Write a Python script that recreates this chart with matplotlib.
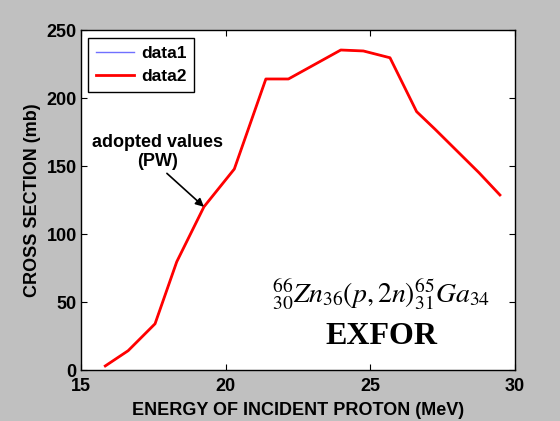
import matplotlib
matplotlib.use('Agg')
import matplotlib.pyplot as plt

# cross section of 66Zn(p,2n)65Ga vs proton energy
energy = [15.84, 16.63, 17.56, 18.31, 19.25, 20.30, 21.39, 22.17, 23.98, 24.76,
          25.68, 26.60, 27.24, 28.76, 29.48]
xs = [3.0, 14.2, 34.0, 79.6, 120.0, 147.8, 214.0, 214.0, 235.3, 234.6,
      229.6, 190.0, 177.0, 145.0, 128.7]

plt.rcParams['font.family'] = ['Liberation Sans', 'DejaVu Sans']
plt.rcParams['mathtext.fontset'] = 'stix'

fig = plt.figure(figsize=(5.6, 4.21), dpi=100)
fig.patch.set_facecolor('#c0c0c0')
ax = fig.add_axes([0.1446, 0.1211, 0.775, 0.8076])
ax.set_facecolor('white')

ax.plot(energy, xs, color='#7070ff', lw=1.0, label='data1')
ax.plot(energy, xs, color='#ff0000', lw=2.0, label='data2')

ax.set_xlim(15, 30)
ax.set_ylim(0, 250)
ax.set_xticks([15, 20, 25, 30])
ax.set_yticks([0, 50, 100, 150, 200, 250])
ax.tick_params(direction='in', length=4, width=0.8, top=True, right=True,
               labelsize=13)
ax.tick_params(axis='x', pad=6)
ax.tick_params(axis='y', pad=3)
for lbl in ax.get_xticklabels() + ax.get_yticklabels():
    lbl.set_fontweight('bold')
for s in ax.spines.values():
    s.set_linewidth(1.0)

ax.set_xlabel('ENERGY OF INCIDENT PROTON (MeV)', fontsize=13, fontweight='bold', labelpad=5)
ax.set_ylabel('CROSS SECTION (mb)', fontsize=13, fontweight='bold', labelpad=4)

leg = ax.legend(loc='upper left', bbox_to_anchor=(0.016, 0.976), fancybox=False,
                framealpha=1, edgecolor='black', prop={'weight': 'bold', 'size': 12.5},
                handlelength=2.2, borderpad=0.45, labelspacing=0.45, handletextpad=0.4,
                borderaxespad=0)
leg.get_frame().set_linewidth(1.0)

ax.text(17.66, 160, 'adopted values\n(PW)', ha='center', va='center',
        fontsize=13, fontweight='bold', linespacing=1.15)
ax.annotate('', xy=(19.25, 120), xytext=(17.97, 144.6),
            arrowprops=dict(arrowstyle='-|>', color='black', lw=1.2,
                            mutation_scale=12, shrinkA=0, shrinkB=0))

ax.text(25.37, 49.3, r'${}^{66}_{30}Zn_{36}(p,2n){}^{65}_{31}Ga_{34}$',
        ha='center', va='baseline', fontsize=20)
ax.text(25.39, 19.1, 'EXFOR', ha='center', va='baseline', fontsize=23,
        fontweight='bold', family='Liberation Serif')

fig.savefig('out.png', dpi=100, facecolor=fig.get_facecolor())
